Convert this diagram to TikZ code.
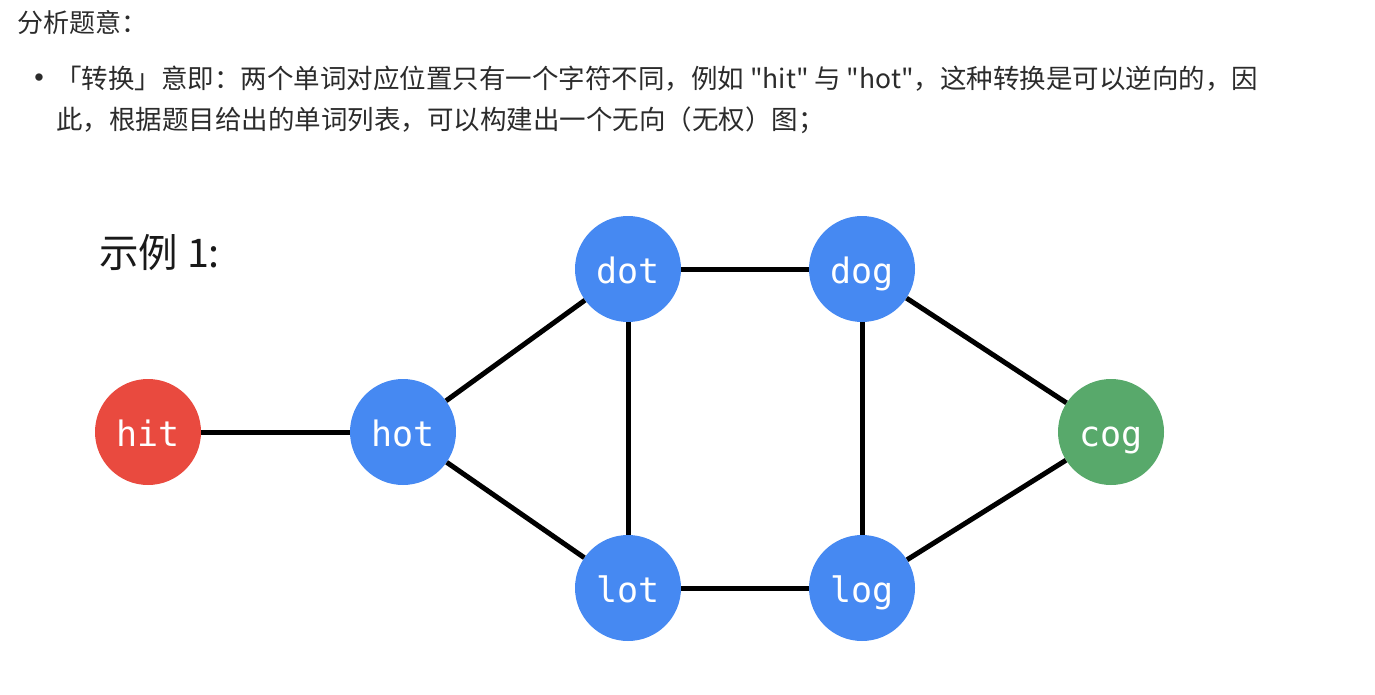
\documentclass[tikz,border=0pt]{standalone}
\usepackage{fontspec}
\setmainfont{Noto Sans CJK SC}
\newfontfamily\cjk{Noto Sans CJK SC}
\newfontfamily\bulletfont{Liberation Sans}
\newfontfamily\labelmono{DejaVu Sans Mono}
\definecolor{nodeblue}{HTML}{4689F2}
\definecolor{nodered}{HTML}{E94A3F}
\definecolor{nodegreen}{HTML}{58A96B}
\definecolor{bodytext}{HTML}{2B2B2B}
\begin{document}
\begin{tikzpicture}[x=1pt,y=-1pt,
  word/.style={circle,minimum size=106pt,inner sep=0pt,text=white,text height=28pt,text depth=0pt,font=\labelmono\fontsize{35}{35}\selectfont},
  edge/.style={line width=5pt,black},
  para/.style={anchor=west,inner sep=0pt,text=bodytext,font=\cjk\fontsize{26.5}{30}\selectfont}]
\useasboundingbox (0,0) rectangle (1375,695);
\node[para,font=\cjk\fontsize{26}{30}\selectfont] (title) at (17,23) {分析题意：};
\node[anchor=center,inner sep=0pt,text=bodytext,font=\bulletfont\fontsize{27}{30}\selectfont] (bullet) at (39,80) {•};
\node[para] (line1) at (55,79) {「转换」意即：两个单词对应位置只有一个字符不同，例如 "hit" 与 "hot"，这种转换是可以逆向的，因};
\node[para] (line2) at (56,120) {此，根据题目给出的单词列表，可以构建出一个无向（无权）图；};
\node[anchor=west,inner sep=0pt,text=black!90,font=\cjk\fontsize{39.5}{44}\selectfont] (example) at (99,253) {示例 1:};

\node[word,fill=nodered] (hit) at (148,432) {hit};
\node[word,fill=nodeblue] (hot) at (403,432) {hot};
\node[word,fill=nodeblue] (dot) at (628,269) {dot};
\node[word,fill=nodeblue] (dog) at (862,269) {dog};
\node[word,fill=nodeblue] (lot) at (628,588) {lot};
\node[word,fill=nodeblue] (log) at (862,588) {log};
\node[word,fill=nodegreen] (cog) at (1111,432) {cog};

\draw[edge] (hit) -- (hot);
\draw[edge] (hot) -- (dot);
\draw[edge] (hot) -- (lot);
\draw[edge] (dot) -- (dog);
\draw[edge] (dot) -- (lot);
\draw[edge] (lot) -- (log);
\draw[edge] (dog) -- (log);
\draw[edge] (dog) -- (cog);
\draw[edge] (log) -- (cog);
\end{tikzpicture}
\end{document}
